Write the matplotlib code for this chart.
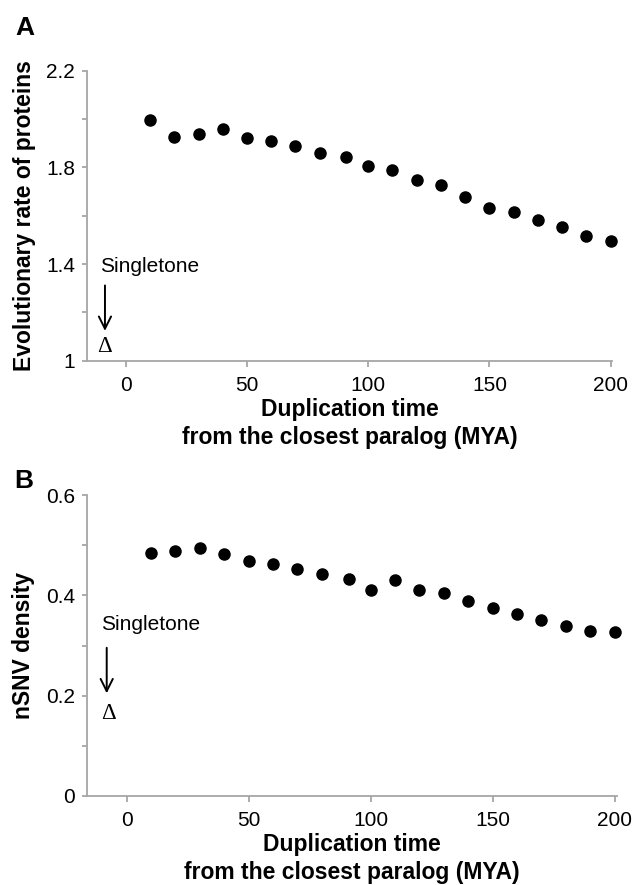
import matplotlib
matplotlib.use("Agg")
import matplotlib.pyplot as plt
import numpy as np

plt.rcParams['font.family'] = ['Liberation Sans', 'DejaVu Sans']

# ---- data ----
time_a = [10, 20, 30, 40, 50, 60, 70, 80, 91, 100, 110, 120, 130, 140, 150, 160, 170, 180, 190, 200]
rate_a = [1.995, 1.925, 1.939, 1.957, 1.922, 1.911, 1.890, 1.861, 1.841, 1.807,
          1.789, 1.747, 1.729, 1.679, 1.632, 1.615, 1.582, 1.552, 1.517, 1.494]
time_b = [10, 20, 30, 40, 50, 60, 70, 80, 91, 100, 110, 120, 130, 140, 150, 160, 170, 180, 190, 200]
nsnv_b = [0.485, 0.489, 0.494, 0.482, 0.469, 0.463, 0.453, 0.443, 0.433, 0.411,
          0.430, 0.411, 0.404, 0.389, 0.375, 0.362, 0.350, 0.338, 0.330, 0.327]
xticks = [0, 50, 100, 150, 200]
yticks_a = [1, 1.4, 1.8, 2.2]
yminor_a = [1.2, 1.6, 2.0]
yticks_b = [0, 0.2, 0.4, 0.6]
yminor_b = [0.1, 0.3, 0.5]
xlabel = "Duplication time\nfrom the closest paralog (MYA)"
ylabel_a = "Evolutionary rate of proteins"
ylabel_b = "nSNV density"

fig = plt.figure(figsize=(6.38, 8.85), dpi=100)
axA = fig.add_axes([0.1364, 0.5924, 0.8229, 0.3277])
axB = fig.add_axes([0.1359, 0.1009, 0.8312, 0.3394])

gray = '#a6a6a6'

def style(ax, yt, ym, ylim, xlim, ylab, ylabpad):
    for s in ['top', 'right']:
        ax.spines[s].set_visible(False)
    for s in ['left', 'bottom']:
        ax.spines[s].set_color(gray)
        ax.spines[s].set_linewidth(1.3)
    ax.set_xlim(*xlim)
    ax.set_ylim(*ylim)
    ax.set_xticks(xticks)
    ax.set_xticklabels([str(v) for v in xticks])
    ax.set_yticks(yt)
    ax.set_yticklabels([('%g' % v) for v in yt])
    ax.set_yticks(ym, minor=True)
    ax.tick_params(axis='both', which='both', color=gray, width=1.3, labelsize=15)
    ax.tick_params(axis='y', which='both', length=3.5, pad=5)
    ax.tick_params(axis='x', which='both', length=4, pad=7)
    ax.set_xlabel(xlabel, fontsize=16.5, fontweight='bold', labelpad=2, linespacing=1.3)
    ax.set_ylabel(ylab, fontsize=16.5, fontweight='bold', labelpad=ylabpad)

style(axA, yticks_a, yminor_a, (1, 2.2), (-16, 200.6), ylabel_a, 7)
style(axB, yticks_b, yminor_b, (0, 0.6), (-16.4, 201), ylabel_b, 8)

axA.plot(time_a, rate_a, 'o', color='black', markersize=8, clip_on=False)
axB.plot(time_b, nsnv_b, 'o', color='black', markersize=8, clip_on=False)

# Singletone annotations
axA.text(-10.8, 1.389, "Singletone", fontsize=15, va='center', ha='left')
axA.annotate("", xy=(-8.6, 1.112), xytext=(-8.6, 1.323),
             arrowprops=dict(arrowstyle='->', color='black', lw=1.4, mutation_scale=22))
axA.text(-8.6, 1.057, "\u0394", fontsize=16.5, va='center', ha='center',
         family=['Liberation Serif', 'DejaVu Serif'])

axB.text(-10.5, 0.341, "Singletone", fontsize=15, va='center', ha='left')
axB.annotate("", xy=(-8.2, 0.199), xytext=(-8.2, 0.301),
             arrowprops=dict(arrowstyle='->', color='black', lw=1.4, mutation_scale=22))
axB.text(-7.4, 0.165, "\u0394", fontsize=16.5, va='center', ha='center',
         family=['Liberation Serif', 'DejaVu Serif'])

fig.text(15 / 638, 1 - 16 / 885, "A", fontsize=19, fontweight='bold', va='top', ha='left')
fig.text(14 / 638, 1 - 469 / 885, "B", fontsize=19, fontweight='bold', va='top', ha='left')

fig.savefig("out.png", dpi=100)
